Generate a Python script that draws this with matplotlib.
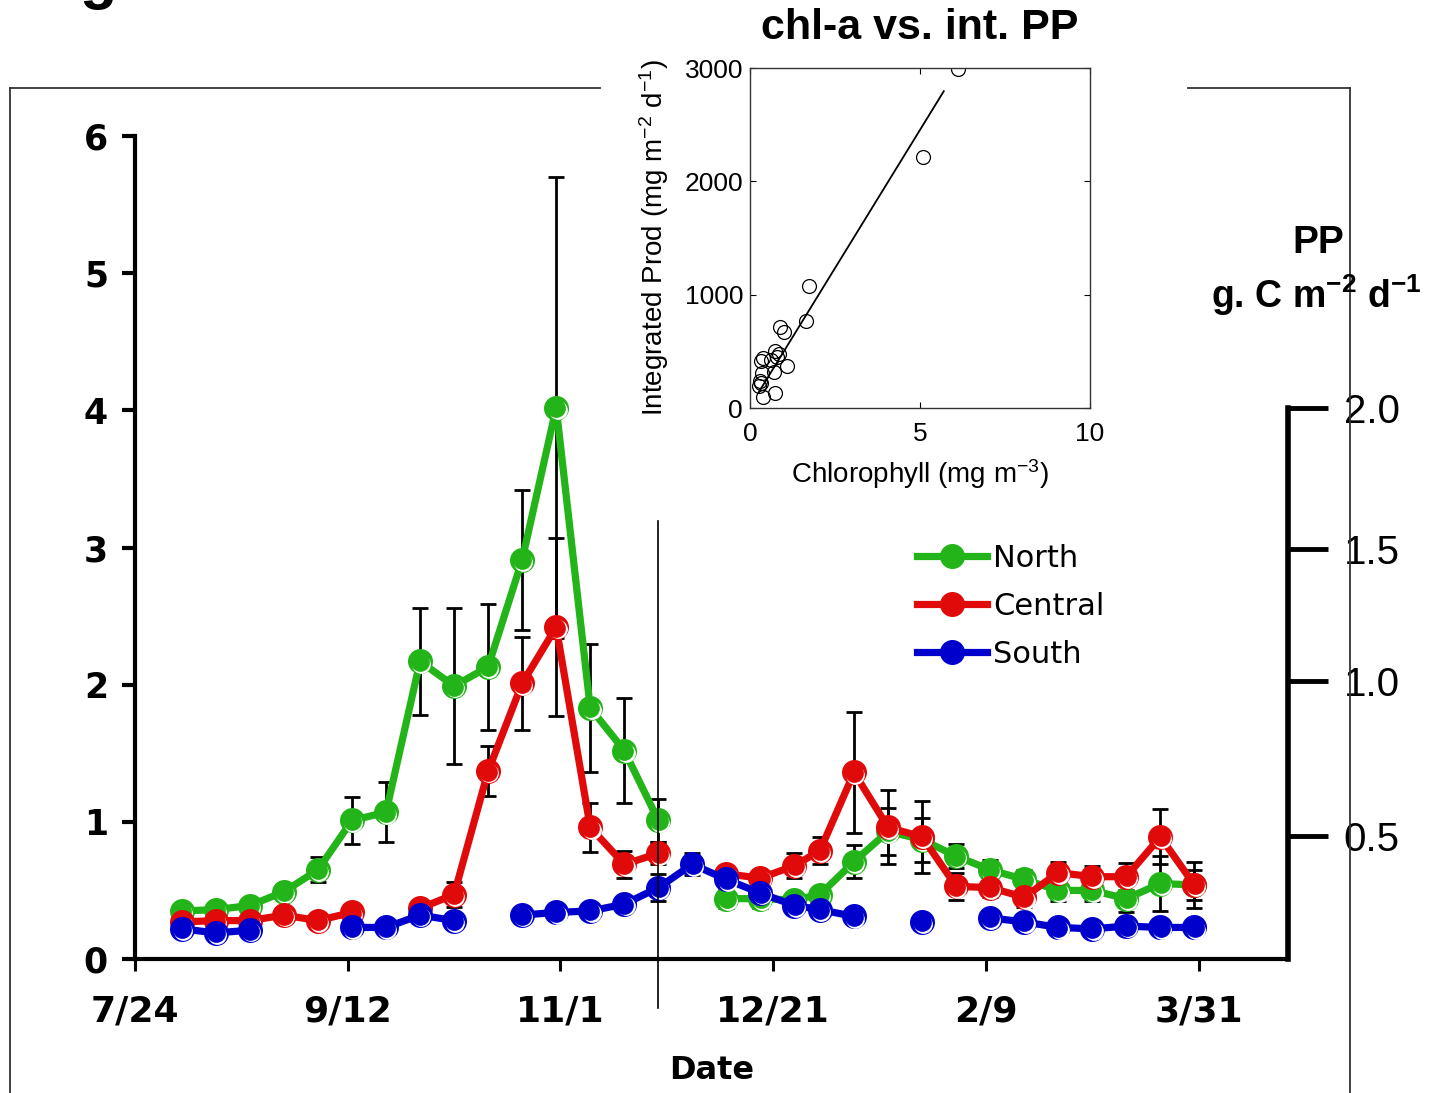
import numpy as np
import matplotlib
matplotlib.use('Agg')
import matplotlib.pyplot as plt
import matplotlib.transforms as mtransforms
from matplotlib.lines import Line2D

# survey dates, Aug 2002 - Mar 2003
sample_dates = np.array([
    '2002-08-04', '2002-08-12', '2002-08-20', '2002-08-28', '2002-09-05',
    '2002-09-13', '2002-09-21', '2002-09-29', '2002-10-07', '2002-10-15',
    '2002-10-23', '2002-10-31', '2002-11-08', '2002-11-16', '2002-11-24',
    '2002-12-02', '2002-12-10', '2002-12-18', '2002-12-26', '2003-01-01',
    '2003-01-09', '2003-01-17', '2003-01-25', '2003-02-02', '2003-02-10',
    '2003-02-18', '2003-02-26', '2003-03-06', '2003-03-14', '2003-03-22',
    '2003-03-30'], dtype='datetime64[D]')

nan = np.nan
# mean chl-a (mg m-3) per region, with standard deviation
north = [0.35, 0.36, 0.39, 0.49, 0.65, 1.01, 1.07, 2.17, 1.99, 2.13,
         2.91, 4.02, 1.83, 1.52, 1.01, nan, 0.44, 0.44, 0.43, 0.47,
         0.71, 0.93, 0.87, 0.75, 0.65, 0.58, 0.50, 0.50, 0.44, 0.55, 0.54]
north_err = [0, 0, 0.03, 0.04, 0.09, 0.17, 0.22, 0.39, 0.57, 0.46,
             0.51, 1.68, 0.47, 0.38, 0.16, nan, 0.07, 0.07, 0.03, 0.05,
             0.12, 0.17, 0.16, 0.09, 0.07, 0.07, 0.08, 0.08, 0.10, 0.20, 0.11]
central = [0.27, 0.28, 0.28, 0.32, 0.28, 0.34, nan, 0.37, 0.47, 1.37,
           2.01, 2.42, 0.96, 0.69, 0.77, nan, 0.62, 0.59, 0.68, 0.79,
           1.36, 0.96, 0.89, 0.53, 0.52, 0.45, 0.63, 0.60, 0.60, 0.89, 0.54]
central_err = [0, 0, 0, 0, 0, 0.03, nan, 0.04, 0.09, 0.18,
               0.34, 0.65, 0.18, 0.10, 0.08, nan, 0.06, 0.05, 0.09, 0.10,
               0.44, 0.27, 0.26, 0.10, 0.07, 0.07, 0.08, 0.08, 0.10, 0.20, 0.17]
south = [0.22, 0.19, 0.21, nan, nan, 0.23, 0.23, 0.32, 0.28, nan,
         0.32, 0.34, 0.35, 0.40, 0.52, 0.69, 0.58, 0.48, 0.39, 0.36,
         0.31, nan, 0.27, nan, 0.30, 0.27, 0.23, 0.22, 0.24, 0.23, 0.23]
south_err = [0, 0, 0, nan, nan, 0, 0, 0, 0, nan,
             0, 0, 0, 0.03, 0.10, 0.08, 0.04, 0, 0, 0,
             0, nan, 0, nan, 0, 0, 0, 0, 0, 0, 0]

regions = ['North', 'Central', 'South']
colors = ['#22b418', '#e00a0a', '#0000cc']

tick_dates = np.array(['2002-07-24', '2002-09-12', '2002-11-01',
                       '2002-12-21', '2003-02-09', '2003-03-31'], dtype='datetime64[D]')
tick_labels = ['7/24', '9/12', '11/1', '12/21', '2/9', '3/31']
cruise_break = np.datetime64('2002-11-24')

pp_labels = ['0.5', '1.0', '1.5', '2.0']

# chl-a vs integrated production (inset)
chl = [6.12, 5.09, 1.74, 1.65, 0.88, 1.00, 0.74, 0.85, 0.37, 0.33,
       0.80, 1.09, 0.35, 0.71, 0.32, 0.26, 0.38, 0.74, 0.30, 0.62]
int_prod = [2990, 2215, 1076, 768, 715, 671, 503, 476, 441, 415,
            450, 371, 309, 318, 221, 194, 97, 132, 240, 420]
fit_slope, fit_intercept = 488.0, 14.0
fit_x = [0.26, 5.7]

W, H = 1438, 1093
plt.rcParams['mathtext.fontset'] = 'custom'
plt.rcParams['mathtext.rm'] = 'Liberation Sans'
plt.rcParams['mathtext.it'] = 'Liberation Sans:italic'
plt.rcParams['mathtext.bf'] = 'Liberation Sans:bold'

fig = plt.figure(figsize=(W / 100, H / 100), dpi=100)


def fx(px):
    return px / W


def fy(py):
    return 1 - py / H


ax = fig.add_axes([fx(135), fy(959), (1288 - 135) / W, (959 - 136) / H])
ax.set_xlim(np.datetime64('2002-07-24'), np.datetime64('2003-04-21'))
ax.set_ylim(0, 6)


def draw_series(y, err, color, z):
    ax.errorbar(sample_dates, y, yerr=err, fmt='none', ecolor='black',
                elinewidth=2, capsize=6, capthick=2, zorder=1)
    ax.plot(sample_dates, y, '-', color=color, lw=5.2, zorder=z)
    ax.plot(sample_dates, y, 'o', ms=18, mfc=color, mec=color, mew=0, zorder=z + 0.1)
    # little white glint on the lower edge of each dot
    glint = mtransforms.offset_copy(ax.transData, fig=fig, x=1.3, y=-2.3, units='dots')
    ax.plot(sample_dates, y, 'o', ms=13.5, mfc='white', mew=0, transform=glint, zorder=z + 0.2)
    cover = mtransforms.offset_copy(ax.transData, fig=fig, x=0.2, y=-0.5, units='dots')
    ax.plot(sample_dates, y, 'o', ms=13.5, mfc=color, mew=0, transform=cover, zorder=z + 0.3)


draw_series(north, north_err, colors[0], 3)
draw_series(central, central_err, colors[1], 4)
draw_series(south, south_err, colors[2], 5)

ax.plot([cruise_break, cruise_break], [3.19, -0.36], color='black', lw=1.2,
        clip_on=False, zorder=6)

for s in ['top', 'right']:
    ax.spines[s].set_visible(False)
ax.spines['left'].set_linewidth(3)
ax.spines['bottom'].set_linewidth(3)
ax.set_yticks(range(7))
ax.set_xticks(tick_dates)
ax.set_xticklabels(tick_labels)
ax.tick_params(axis='y', direction='out', length=9.5, width=3, pad=10,
               labelsize=25)
ax.tick_params(axis='x', direction='out', length=8.5, width=2.2, pad=17,
               labelsize=26)
for lab in ax.get_xticklabels() + ax.get_yticklabels():
    lab.set_fontweight('bold')
    lab.set_family('DejaVu Sans')
ax.set_xlabel('Date', fontsize=23, fontweight='bold', labelpad=19)

# primary production scale on the right
ax2 = ax.twinx()
ax2.set_ylim(0, 6)
for s in ['top', 'left', 'bottom']:
    ax2.spines[s].set_visible(False)
ax2.spines['right'].set_linewidth(4)
ax2.spines['right'].set_bounds(0, 4.02)
ax2.set_yticks([0.90, 2.03, 2.99, 4.02])
ax2.set_yticklabels(pp_labels)
ax2.tick_params(axis='y', direction='out', length=29, width=3.5, pad=11,
                labelsize=29)
for lab in ax2.get_yticklabels():
    lab.set_family('Liberation Sans')
fig.text(fx(1318), fy(243), 'PP', ha='center', va='center', fontsize=28,
         fontweight='bold', family='Liberation Sans')
fig.text(fx(1316), fy(295), r'g. C m$^{\mathbf{-2}}$ d$^{\mathbf{-1}}$',
         ha='center', va='center', fontsize=27, fontweight='bold',
         family='Liberation Sans')

handles = [Line2D([], [], color=c, lw=5.2, marker='o', ms=18, mew=0) for c in colors]
ax.legend(handles, regions, loc='upper left', bbox_to_anchor=(fx(917), fy(544)),
          bbox_transform=fig.transFigure, frameon=False, handlelength=2.3,
          handletextpad=0.2, labelspacing=0.62, borderpad=0, borderaxespad=0,
          prop={'family': 'DejaVu Sans', 'size': 22})

# outer frame, broken where the inset sits
frame = dict(color='#333333', lw=1.3, transform=fig.transFigure)
fig.add_artist(Line2D([fx(10), fx(600)], [fy(88), fy(88)], **frame))
fig.add_artist(Line2D([fx(1188), fx(1350)], [fy(88), fy(88)], **frame))
fig.add_artist(Line2D([fx(10), fx(10)], [fy(88), 0], **frame))
fig.add_artist(Line2D([fx(1350), fx(1350)], [fy(88), 0], **frame))

fig.text(fx(80), fy(-3), 'g', fontsize=44, fontweight='bold',
         family='Liberation Sans', va='baseline', ha='left')

# inset: chl-a vs integrated production
axin = fig.add_axes([fx(750), fy(408), 340 / W, 340 / H])
axin.plot(chl, int_prod, 'o', ms=10, mfc='none', mec='black', mew=0.9)
axin.plot(fit_x, [fit_slope * v + fit_intercept for v in fit_x], color='black', lw=1.3)
axin.set_xlim(0, 10)
axin.set_ylim(0, 3000)
axin.set_xticks([0, 5, 10])
axin.set_yticks([0, 1000, 2000, 3000])
axin.tick_params(direction='in', top=True, right=True, length=4, width=0.8,
                 labelsize=19, pad=5)
axin.tick_params(axis='x', pad=10)
for lab in axin.get_xticklabels() + axin.get_yticklabels():
    lab.set_family('Liberation Sans')
for s in axin.spines.values():
    s.set_linewidth(1)
    s.set_color('#333333')
axin.set_xlabel(r'Chlorophyll (mg m$^{-3}$)', fontsize=20, family='Liberation Sans',
                labelpad=8)
axin.set_ylabel(r'Integrated Prod (mg m$^{-2}$ d$^{-1}$)', fontsize=20,
                family='Liberation Sans', labelpad=10)
fig.text(fx(920), fy(28), 'chl-a vs. int. PP', ha='center', va='center',
         fontsize=31, fontweight='bold', family='Liberation Sans')

fig.savefig('out.png', dpi=100)
